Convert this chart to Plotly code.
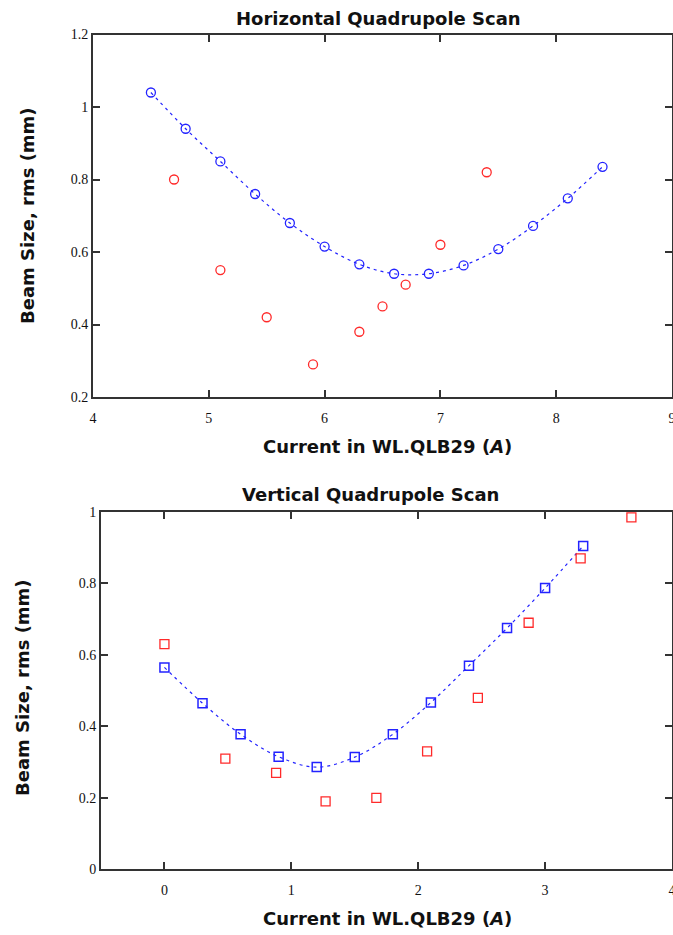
import plotly.graph_objects as go

# ---- Horizontal scan data ----
h_fit_x = [4.5, 4.8, 5.1, 5.4, 5.7, 6.0, 6.3, 6.6, 6.9, 7.2, 7.5, 7.8, 8.1, 8.4]
h_fit_y = [1.04, 0.94, 0.85, 0.76, 0.68, 0.615, 0.566, 0.54, 0.54, 0.563, 0.608, 0.672, 0.748, 0.835]
h_meas_x = [4.7, 5.1, 5.5, 5.9, 6.3, 6.5, 6.7, 7.0, 7.4]
h_meas_y = [0.80, 0.55, 0.42, 0.29, 0.38, 0.45, 0.51, 0.62, 0.82]

# ---- Vertical scan data ----
v_fit_x = [0.0, 0.3, 0.6, 0.9, 1.2, 1.5, 1.8, 2.1, 2.4, 2.7, 3.0, 3.3]
v_fit_y = [0.565, 0.465, 0.378, 0.315, 0.286, 0.314, 0.378, 0.467, 0.570, 0.675, 0.787, 0.905]
v_meas_x = [0.0, 0.48, 0.88, 1.27, 1.67, 2.07, 2.47, 2.87, 3.28, 3.68]
v_meas_y = [0.63, 0.31, 0.27, 0.19, 0.20, 0.33, 0.48, 0.69, 0.87, 0.985]

h_xticks = [4, 5, 6, 7, 8, 9]
h_yticks = [0.2, 0.4, 0.6, 0.8, 1.0, 1.2]
h_ytick_text = ["0.2", "0.4", "0.6", "0.8", "1", "1.2"]
v_xticks = [0, 1, 2, 3, 4]
v_yticks = [0, 0.2, 0.4, 0.6, 0.8, 1.0]
v_ytick_text = ["0", "0.2", "0.4", "0.6", "0.8", "1"]

titles = ["Horizontal Quadrupole Scan", "Vertical Quadrupole Scan"]
xlabel = "Current in WL.QLB29 (<i>A</i>)"
ylabel = "Beam Size, rms (mm)"

W, H = 673, 935
BLUE = "#2323ff"
RED = "#ff2a2a"


def px(x):
    return x / W


def py(y):
    return 1 - y / H


fig = go.Figure()

# top
fig.add_trace(go.Scatter(x=h_fit_x, y=h_fit_y, mode="lines+markers",
                         line=dict(color=BLUE, width=1.2, dash="3px,4px", shape="spline"),
                         marker=dict(symbol="circle-open", size=9, color=BLUE, line=dict(width=1.3)),
                         xaxis="x", yaxis="y", showlegend=False))
fig.add_trace(go.Scatter(x=h_meas_x, y=h_meas_y, mode="markers",
                         marker=dict(symbol="circle-open", size=9, color=RED, line=dict(width=1.3)),
                         xaxis="x", yaxis="y", showlegend=False))
# bottom
fig.add_trace(go.Scatter(x=v_fit_x, y=v_fit_y, mode="lines+markers",
                         line=dict(color=BLUE, width=1.2, dash="3px,4px", shape="spline"),
                         marker=dict(symbol="square-open", size=9, color=BLUE, line=dict(width=1.5)),
                         xaxis="x2", yaxis="y2", showlegend=False))
fig.add_trace(go.Scatter(x=v_meas_x, y=v_meas_y, mode="markers",
                         marker=dict(symbol="square-open", size=9, color=RED, line=dict(width=1.3)),
                         xaxis="x2", yaxis="y2", showlegend=False))

tickfont = dict(family="Liberation Serif, Times New Roman, serif", size=14, color="#111")
axcommon = dict(showline=True, linecolor="#333", linewidth=2, mirror="ticks",
                ticks="inside", ticklen=7, tickwidth=1.5, tickcolor="#333",
                showgrid=False, zeroline=False, tickfont=tickfont, automargin=False,
                ticklabeloverflow="allow")

fig.update_layout(
    width=W, height=H, margin=dict(l=0, r=0, t=0, b=0, autoexpand=False),
    paper_bgcolor="white", plot_bgcolor="white",
    xaxis=dict(domain=[px(93), px(672)], range=[4, 9], tickvals=h_xticks,
               anchor="y", ticklabelstandoff=7, **axcommon),
    yaxis=dict(domain=[py(397), py(34.5)], range=[0.2, 1.2], tickvals=h_yticks,
               ticktext=h_ytick_text, anchor="x", **axcommon),
    xaxis2=dict(domain=[px(101), px(672)], range=[-0.5, 4], tickvals=v_xticks,
                anchor="y2", ticklabelstandoff=7, **axcommon),
    yaxis2=dict(domain=[py(869.3), py(512)], range=[0, 1], tickvals=v_yticks,
                ticktext=v_ytick_text, anchor="x2", **axcommon),
)

lab_font = dict(family="DejaVu Sans, sans-serif", size=18, color="#111", weight="bold")


def ann(text, x, y, angle=0):
    fig.add_annotation(text=text, x=px(x), y=py(y), xref="paper", yref="paper",
                       showarrow=False, font=lab_font, textangle=angle,
                       xanchor="center", yanchor="middle")


ann(titles[0], 378, 18)
ann(titles[1], 370, 494)
ann(xlabel, 388, 447)
ann(xlabel, 388, 918)
ann(ylabel, 28, 216, -90)
ann(ylabel, 22, 688, -90)

fig.write_html(
    "out.html",
    config={"displayModeBar": False},
    post_script="document.body.style.margin='0';document.body.style.overflow='hidden';",
)
